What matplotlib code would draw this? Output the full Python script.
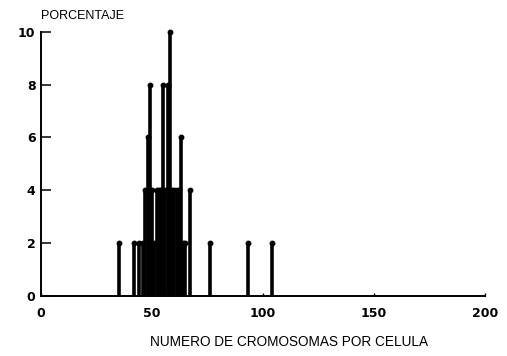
import matplotlib
matplotlib.use("Agg")
import matplotlib.pyplot as plt

# chromosome number per cell and percentage of cells
cromosomas = [35, 42, 44, 46, 47, 48, 49, 50, 51, 52, 53, 54, 55, 56, 57, 58,
              59, 60, 61, 62, 63, 64, 65, 67, 76, 93, 104]
porcentaje = [2, 2, 2, 2, 4, 6, 8, 4, 2, 4, 4, 4, 8, 4, 8, 10,
              4, 4, 4, 4, 6, 2, 2, 4, 2, 2, 2]

x_ticks = [0, 50, 100, 150, 200]
y_ticks = [0, 2, 4, 6, 8, 10]

fig = plt.figure(figsize=(5.07, 3.56), dpi=100)
ax = fig.add_axes([0.081, 0.168, 0.876, 0.743])

ax.vlines(cromosomas, 0, porcentaje, color="black", linewidth=2.6)
ax.plot(cromosomas, porcentaje, "o", color="black", markersize=3.2,
        clip_on=False)

ax.set_xlim(0, 200)
ax.set_ylim(0, 10)
ax.set_xticks(x_ticks)
ax.set_yticks(y_ticks)

for s in ["top", "right"]:
    ax.spines[s].set_visible(False)
for s in ["left", "bottom"]:
    ax.spines[s].set_linewidth(1.4)

ax.tick_params(axis="y", direction="in", length=7, width=1.1, pad=4)
ax.tick_params(axis="x", direction="in", length=2, width=1.0, pad=8)
for lbl in ax.get_xticklabels() + ax.get_yticklabels():
    lbl.set_fontweight("heavy")
    lbl.set_fontsize(9)
    lbl.set_family("DejaVu Sans")

fig.text(0.081, 0.947, "PORCENTAJE", fontsize=9, family="Liberation Sans",
         ha="left", va="baseline")
fig.text(0.57, 0.028, "NUMERO DE CROMOSOMAS POR CELULA", fontsize=9.8,
         family="Liberation Sans", ha="center", va="baseline")

fig.savefig("out.png", dpi=100)
